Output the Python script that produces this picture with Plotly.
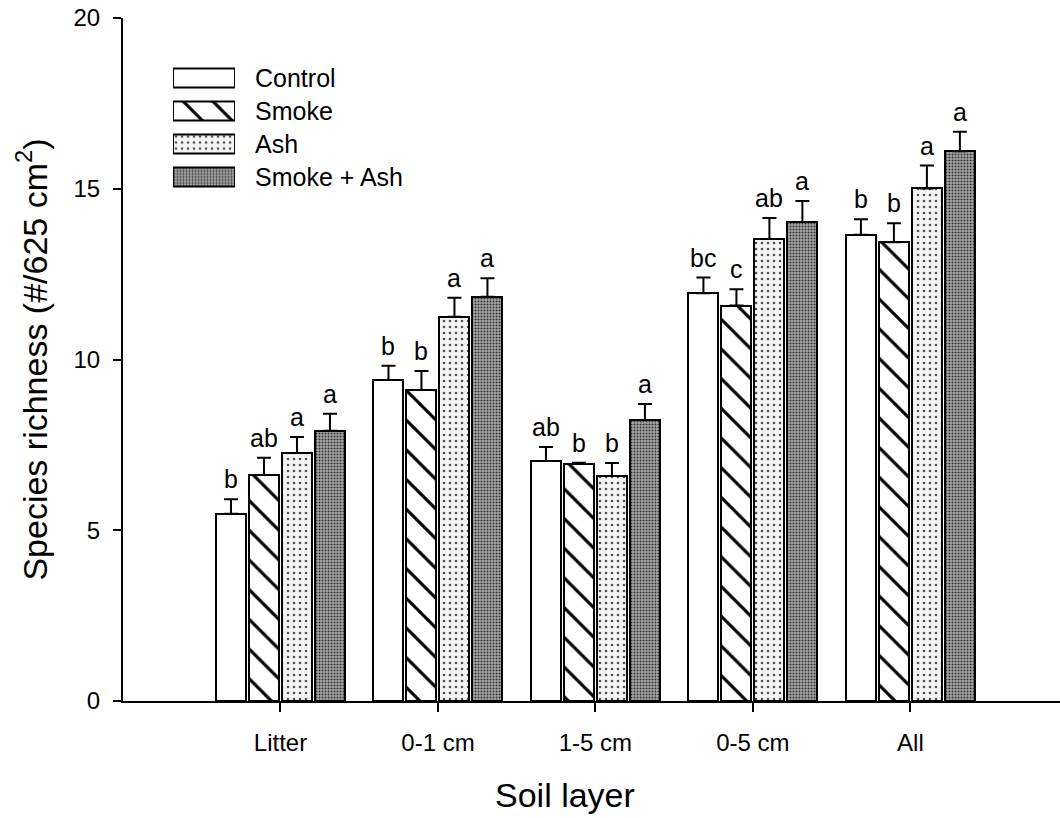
import plotly.graph_objects as go

categories = ["Litter", "0-1 cm", "1-5 cm", "0-5 cm", "All"]
series_names = ["Control", "Smoke", "Ash", "Smoke + Ash"]
means = {
    "Control":     [5.48, 9.40, 7.03, 11.94, 13.65],
    "Smoke":       [6.62, 9.11, 6.94, 11.58, 13.43],
    "Ash":         [7.26, 11.25, 6.59, 13.53, 15.01],
    "Smoke + Ash": [7.91, 11.84, 8.23, 14.03, 16.10],
}
errors = {
    "Control":     [0.43, 0.42, 0.41, 0.46, 0.46],
    "Smoke":       [0.50, 0.55, 0.04, 0.48, 0.56],
    "Ash":         [0.47, 0.56, 0.38, 0.61, 0.67],
    "Smoke + Ash": [0.50, 0.54, 0.47, 0.61, 0.57],
}
letters = {
    "Control":     ["b", "b", "ab", "bc", "b"],
    "Smoke":       ["ab", "b", "b", "c", "b"],
    "Ash":         ["a", "a", "b", "ab", "a"],
    "Smoke + Ash": ["a", "a", "a", "a", "a"],
}

FONT = "Liberation Sans, Arial, sans-serif"
styles = {
    "Control": dict(color="white"),
    "Smoke": dict(color="white", pattern=dict(shape="\\", size=21, solidity=0.15, fgopacity=1,
                                               fgcolor="black", bgcolor="white", fillmode="overlay")),
    "Ash": dict(color="#f4f4f4", pattern=dict(shape=".", size=6, solidity=0.15, fgopacity=1,
                                              fgcolor="#505050", bgcolor="#f4f4f4", fillmode="overlay")),
    "Smoke + Ash": dict(color="#9a9a9a", pattern=dict(shape=".", size=3, solidity=0.35, fgopacity=1,
                                                      fgcolor="#303030", bgcolor="#a8a8a8", fillmode="overlay")),
}

slot = 0.2095
bw = 0.1905
xs = list(range(len(categories)))

fig = go.Figure()
annotations = []
for i, name in enumerate(series_names):
    off = (i - 1.5) * slot
    st = styles[name]
    marker = dict(color=st["color"], line=dict(color="black", width=2))
    if "pattern" in st:
        marker["pattern"] = st["pattern"]
    fig.add_trace(go.Bar(
        x=xs, y=means[name], name=name, width=bw, offset=off - bw / 2,
        marker=marker, showlegend=False,
        error_y=dict(type="data", array=errors[name], symmetric=False,
                     arrayminus=[0] * len(xs), color="black", thickness=2, width=7),
    ))
    for j, x in enumerate(xs):
        annotations.append(dict(
            x=x + off, y=means[name][j] + errors[name][j], xref="x", yref="y",
            text=letters[name][j], showarrow=False, yanchor="bottom", yshift=4,
            font=dict(family=FONT, size=25, color="black"),
        ))

# legend drawn as small bars on an inset axis
for i, name in enumerate(series_names):
    st = styles[name]
    marker = dict(color=st["color"], line=dict(color="black", width=2))
    if "pattern" in st:
        marker["pattern"] = st["pattern"]
    fig.add_trace(go.Bar(
        x=[1], y=[i], orientation="h", width=0.6, xaxis="x2", yaxis="y2",
        marker=marker, showlegend=False, hoverinfo="skip",
    ))
    annotations.append(dict(
        x=0.1387, y=i, xref="paper", yref="y2", text=name, showarrow=False,
        xanchor="left", yanchor="middle", font=dict(family=FONT, size=25, color="black"),
    ))

# x-axis title
annotations.append(dict(
    x=0.4717, y=-0.1376, xref="paper", yref="paper", text="Soil layer",
    showarrow=False, xanchor="center", yanchor="middle",
    font=dict(family=FONT, size=34, color="black"),
))

fig.update_layout(
    width=1060, height=818,
    margin=dict(l=123, r=0, t=18, b=117),
    paper_bgcolor="white", plot_bgcolor="white",
    font=dict(family=FONT, size=24, color="black"),
    showlegend=False,
    annotations=annotations,
    xaxis=dict(
        range=[-1, 4.95], tickvals=xs, ticktext=categories,
        showline=True, linecolor="black", linewidth=2,
        ticks="outside", ticklen=9, tickwidth=1.5, tickcolor="black",
        showgrid=False, zeroline=False,
        tickfont=dict(family=FONT, size=24),
        ticklabelstandoff=10,
    ),
    yaxis=dict(
        range=[0, 20], tickvals=[0, 5, 10, 15, 20],
        showline=True, linecolor="black", linewidth=2,
        ticks="outside", ticklen=8, tickwidth=1.5, tickcolor="black",
        showgrid=False, zeroline=False,
        tickfont=dict(family=FONT, size=24),
        ticklabelstandoff=8,
        title=dict(text="Species richness (#/625 cm<sup>2</sup>)",
                   font=dict(family=FONT, size=34), standoff=16),
    ),
    xaxis2=dict(domain=[0.0534, 0.1195], range=[0, 1], anchor="y2",
                visible=False, fixedrange=True),
    yaxis2=dict(domain=[0.7430, 0.9363], range=[3.5, -0.5], anchor="x2",
                visible=False, fixedrange=True),
    bargap=0,
)

fig.write_html("out.html")
